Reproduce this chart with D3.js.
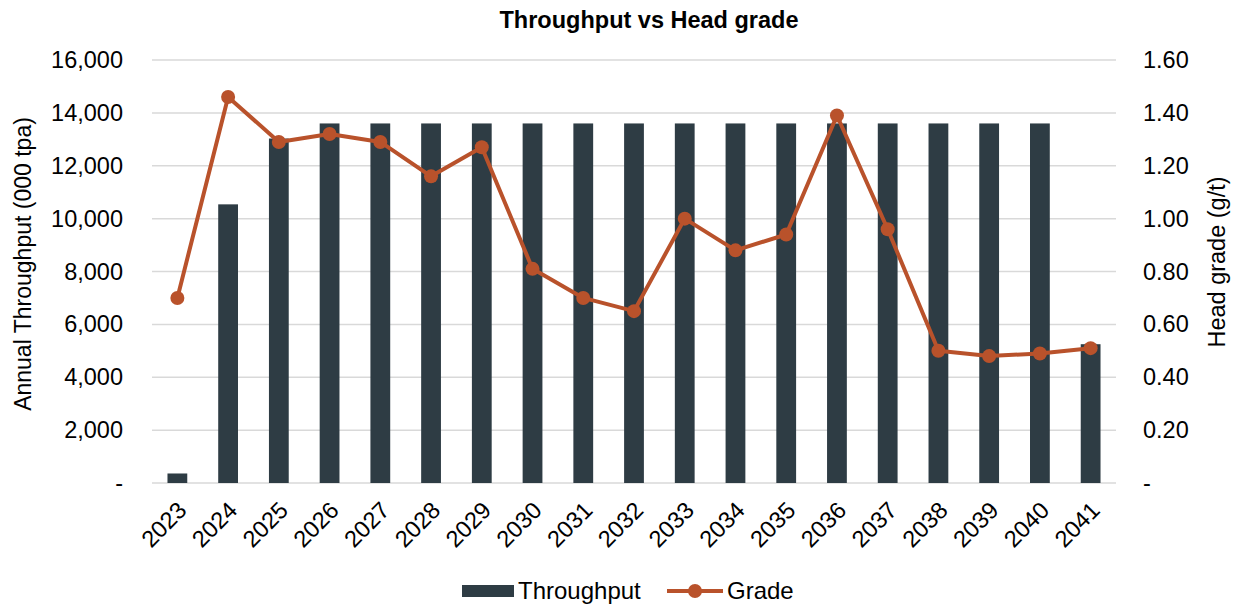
<!DOCTYPE html>
<html>
<head>
<meta charset="utf-8">
<script src="https://cdn.jsdelivr.net/npm/d3@7"></script>
<style>
  body { margin: 0; background: #fff; }
  text { font-family: "Liberation Sans", Arial, sans-serif; fill: #000; }
</style>
</head>
<body>
<script>
// chart data
var years = ["2023", "2024", "2025", "2026", "2027", "2028", "2029", "2030", "2031", "2032",
             "2033", "2034", "2035", "2036", "2037", "2038", "2039", "2040", "2041"];
var throughput = [360, 10540, 13030, 13600, 13600, 13600, 13600, 13600, 13600, 13600,
                  13600, 13600, 13600, 13600, 13600, 13600, 13600, 13600, 5250];
var grade = [0.70, 1.46, 1.29, 1.32, 1.29, 1.16, 1.27, 0.81, 0.70, 0.65,
             1.00, 0.88, 0.94, 1.39, 0.96, 0.50, 0.48, 0.49, 0.51];
var leftTicks = [0, 2000, 4000, 6000, 8000, 10000, 12000, 14000, 16000];
var rightTicks = [0, 0.2, 0.4, 0.6, 0.8, 1.0, 1.2, 1.4, 1.6];

var totalWidth = 1236, totalHeight = 608;
var margin = {top: 60, right: 120, bottom: 125, left: 152};
var width = totalWidth - margin.left - margin.right;
var height = totalHeight - margin.top - margin.bottom;

var barColor = "#2e3c44";
var lineColor = "#b9522b";
var tickSize = "23.5px";

var svg = d3.select("body").append("svg")
    .attr("width", totalWidth)
    .attr("height", totalHeight);

var g = svg.append("g")
    .attr("transform", "translate(" + margin.left + "," + margin.top + ")");

// scales
var x = d3.scaleBand().domain(years).range([0, width]).paddingInner(0.61).paddingOuter(0.305);
var xPoint = d3.scaleBand().domain(years).range([0, width]);
var yLeft = d3.scaleLinear().domain([0, 16000]).range([height, 0]);
var yRight = d3.scaleLinear().domain([0, 1.6]).range([height, 0]);

// gridlines
g.selectAll(".grid")
    .data(leftTicks)
    .enter()
    .append("line")
        .attr("x1", 0)
        .attr("x2", width)
        .attr("y1", function(d) {return yLeft(d)})
        .attr("y2", function(d) {return yLeft(d)})
        .attr("stroke", "#d9d9d9")
        .attr("stroke-width", 1.5);

// bars
g.selectAll(".bar")
    .data(throughput)
    .enter()
    .append("rect")
        .attr("class", "bar")
        .attr("x", function(d, i) {return x(years[i])})
        .attr("width", x.bandwidth())
        .attr("y", function(d) {return yLeft(d)})
        .attr("height", function(d) {return height - yLeft(d)})
        .attr("fill", barColor);

// grade line
var line = d3.line()
    .x(function(d, i) {return xPoint(years[i]) + xPoint.bandwidth() / 2})
    .y(function(d) {return yRight(d)});

g.append("path")
    .datum(grade)
    .attr("d", line)
    .attr("fill", "none")
    .attr("stroke", lineColor)
    .attr("stroke-width", 4)
    .attr("stroke-linejoin", "round");

g.selectAll(".dot")
    .data(grade)
    .enter()
    .append("circle")
        .attr("cx", function(d, i) {return xPoint(years[i]) + xPoint.bandwidth() / 2})
        .attr("cy", function(d) {return yRight(d)})
        .attr("r", 7)
        .attr("fill", lineColor);

// axes
var fmtLeft = function(d) {return d === 0 ? "-" : d3.format(",")(d)};
var fmtRight = function(d) {return d === 0 ? "-" : d3.format(".2f")(d)};

var leftAxis = g.append("g")
    .call(d3.axisLeft(yLeft).tickValues(leftTicks).tickFormat(fmtLeft).tickSize(0).tickPadding(29));
leftAxis.select(".domain").remove();
leftAxis.selectAll("text").style("font-size", tickSize);

var rightAxis = g.append("g")
    .attr("transform", "translate(" + width + ",0)")
    .call(d3.axisRight(yRight).tickValues(rightTicks).tickFormat(fmtRight).tickSize(0).tickPadding(27));
rightAxis.select(".domain").remove();
rightAxis.selectAll("text").style("font-size", tickSize);

var xAxis = g.append("g")
    .attr("transform", "translate(0," + height + ")")
    .call(d3.axisBottom(xPoint).tickSize(0).tickPadding(18));
xAxis.select(".domain").remove();
xAxis.selectAll("text")
    .style("font-size", tickSize)
    .style("text-anchor", "end")
    .attr("dx", "-0.54em")
    .attr("dy", "0.42em")
    .attr("transform", "rotate(-45)");

// titles
svg.append("text")
    .attr("x", 649)
    .attr("y", 28)
    .attr("text-anchor", "middle")
    .style("font-size", "23.5px")
    .style("font-weight", "bold")
    .text("Throughput vs Head grade");

svg.append("text")
    .attr("transform", "translate(31,264) rotate(-90)")
    .attr("text-anchor", "middle")
    .style("font-size", "23px")
    .text("Annual Throughput (000 tpa)");

svg.append("text")
    .attr("transform", "translate(1225,262) rotate(-90)")
    .attr("text-anchor", "middle")
    .style("font-size", "23.5px")
    .text("Head grade (g/t)");

// legend
var legend = svg.append("g").attr("transform", "translate(0,591)");
legend.append("rect")
    .attr("x", 462).attr("y", -6).attr("width", 52).attr("height", 12)
    .attr("fill", barColor);
legend.append("text")
    .attr("x", 518).attr("y", 8)
    .style("font-size", "24px")
    .text("Throughput");
legend.append("line")
    .attr("x1", 667).attr("x2", 723).attr("y1", 0).attr("y2", 0)
    .attr("stroke", lineColor).attr("stroke-width", 4);
legend.append("circle")
    .attr("cx", 695).attr("cy", 0).attr("r", 7)
    .attr("fill", lineColor);
legend.append("text")
    .attr("x", 727).attr("y", 8)
    .style("font-size", "24px")
    .text("Grade");
</script>
</body>
</html>
